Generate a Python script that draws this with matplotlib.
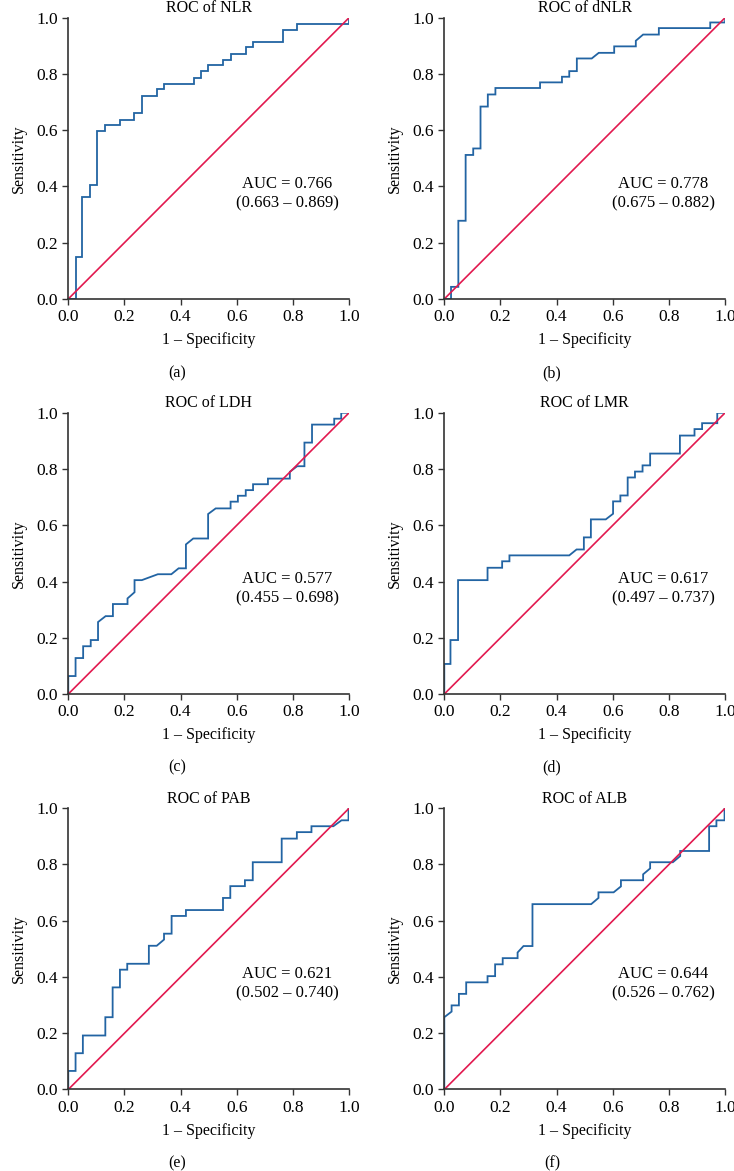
import matplotlib
matplotlib.use("Agg")
import matplotlib.pyplot as plt

plt.rcParams['font.family'] = ['Liberation Serif', 'DejaVu Serif']

# ---------- ROC vertices (1 - specificity, sensitivity) ----------
nlr_fpr = [0, 0.027, 0.027, 0.05, 0.05, 0.077, 0.077, 0.103, 0.103, 0.13, 0.13, 0.184, 0.184,
           0.235, 0.235, 0.261, 0.261, 0.315, 0.315, 0.341, 0.341, 0.447, 0.447, 0.473, 0.473,
           0.499, 0.499, 0.552, 0.552, 0.578, 0.578, 0.632, 0.632, 0.658, 0.658, 0.764, 0.764,
           0.816, 0.816, 1.0, 1.0]
nlr_tpr = [0, 0, 0.149, 0.149, 0.362, 0.362, 0.404, 0.404, 0.596, 0.596, 0.617, 0.617, 0.638,
           0.638, 0.66, 0.66, 0.723, 0.723, 0.745, 0.745, 0.766, 0.766, 0.787, 0.787, 0.809,
           0.809, 0.83, 0.83, 0.851, 0.851, 0.872, 0.872, 0.894, 0.894, 0.915, 0.915, 0.957,
           0.957, 0.979, 0.979, 1.0]

dnlr_fpr = [0, 0.024, 0.024, 0.05, 0.05, 0.076, 0.076, 0.103, 0.103, 0.129, 0.129, 0.155, 0.155,
            0.182, 0.182, 0.341, 0.341, 0.419, 0.419, 0.445, 0.445, 0.472, 0.472, 0.525, 0.55,
            0.605, 0.605, 0.682, 0.682, 0.708, 0.764, 0.764, 0.947, 0.947, 1.0, 1.0]
dnlr_tpr = [0, 0, 0.043, 0.043, 0.278, 0.278, 0.512, 0.512, 0.535, 0.535, 0.684, 0.684, 0.727,
            0.727, 0.75, 0.75, 0.77, 0.77, 0.79, 0.79, 0.81, 0.81, 0.855, 0.855, 0.875,
            0.875, 0.898, 0.898, 0.918, 0.94, 0.94, 0.963, 0.963, 0.983, 0.983, 1.0]

ldh_fpr = [0, 0, 0.026, 0.026, 0.053, 0.053, 0.08, 0.08, 0.106, 0.106, 0.133, 0.159, 0.159,
           0.211, 0.211, 0.236, 0.236, 0.262, 0.319, 0.367, 0.393, 0.419, 0.419, 0.445, 0.498,
           0.498, 0.525, 0.578, 0.578, 0.604, 0.604, 0.632, 0.632, 0.658, 0.658, 0.711, 0.711,
           0.789, 0.789, 0.815, 0.841, 0.841, 0.868, 0.868, 0.947, 0.947, 0.972, 0.972, 1.0]
ldh_tpr = [0, 0.064, 0.064, 0.128, 0.128, 0.17, 0.17, 0.192, 0.192, 0.256, 0.277, 0.277, 0.32,
           0.32, 0.34, 0.362, 0.405, 0.405, 0.426, 0.426, 0.447, 0.447, 0.532, 0.553, 0.553,
           0.64, 0.66, 0.66, 0.684, 0.684, 0.705, 0.705, 0.725, 0.725, 0.746, 0.746, 0.766,
           0.766, 0.79, 0.81, 0.81, 0.894, 0.894, 0.958, 0.958, 0.979, 0.979, 1.0, 1.0]

lmr_fpr = [0, 0, 0.022, 0.022, 0.049, 0.049, 0.154, 0.154, 0.206, 0.206, 0.232, 0.232, 0.445,
           0.471, 0.497, 0.497, 0.522, 0.522, 0.575, 0.601, 0.601, 0.627, 0.627, 0.653, 0.653,
           0.679, 0.679, 0.706, 0.706, 0.733, 0.733, 0.839, 0.839, 0.891, 0.891, 0.918, 0.918,
           0.972, 0.972, 1.0]
lmr_tpr = [0, 0.107, 0.107, 0.192, 0.192, 0.405, 0.405, 0.449, 0.449, 0.472, 0.472, 0.493, 0.493,
           0.514, 0.514, 0.557, 0.557, 0.621, 0.621, 0.641, 0.685, 0.685, 0.706, 0.706, 0.77,
           0.77, 0.791, 0.791, 0.813, 0.813, 0.855, 0.855, 0.919, 0.919, 0.942, 0.942, 0.963,
           0.963, 1.0, 1.0]

pab_fpr = [0, 0, 0.026, 0.026, 0.052, 0.052, 0.132, 0.132, 0.158, 0.158, 0.184, 0.184, 0.21,
           0.21, 0.287, 0.287, 0.315, 0.341, 0.341, 0.368, 0.368, 0.419, 0.419, 0.551, 0.551,
           0.577, 0.577, 0.629, 0.629, 0.657, 0.657, 0.76, 0.76, 0.814, 0.814, 0.866, 0.866,
           0.944, 0.973, 0.998, 0.998]
pab_tpr = [0, 0.066, 0.066, 0.129, 0.129, 0.192, 0.192, 0.257, 0.257, 0.363, 0.363, 0.426, 0.426,
           0.447, 0.447, 0.511, 0.511, 0.533, 0.554, 0.554, 0.617, 0.617, 0.638, 0.638, 0.681,
           0.681, 0.723, 0.723, 0.744, 0.744, 0.808, 0.808, 0.892, 0.892, 0.915, 0.915, 0.936,
           0.936, 0.957, 0.957, 1.0]

alb_fpr = [0, 0, 0.026, 0.026, 0.052, 0.052, 0.078, 0.078, 0.154, 0.154, 0.181, 0.181, 0.208,
           0.208, 0.261, 0.261, 0.282, 0.314, 0.314, 0.523, 0.549, 0.549, 0.603, 0.629, 0.629,
           0.708, 0.708, 0.733, 0.733, 0.814, 0.84, 0.84, 0.943, 0.943, 0.969, 0.969, 0.998, 0.998]
alb_tpr = [0, 0.257, 0.277, 0.299, 0.299, 0.34, 0.34, 0.381, 0.381, 0.403, 0.403, 0.445, 0.445,
           0.467, 0.467, 0.487, 0.51, 0.51, 0.659, 0.659, 0.681, 0.701, 0.701, 0.722, 0.744,
           0.744, 0.765, 0.786, 0.808, 0.808, 0.83, 0.848, 0.848, 0.936, 0.936, 0.957, 0.957, 1.0]

titles = ['ROC of NLR', 'ROC of dNLR', 'ROC of LDH', 'ROC of LMR', 'ROC of PAB', 'ROC of ALB']
auc_text = ['AUC = 0.766\n(0.663 – 0.869)', 'AUC = 0.778\n(0.675 – 0.882)',
            'AUC = 0.577\n(0.455 – 0.698)', 'AUC = 0.617\n(0.497 – 0.737)',
            'AUC = 0.621\n(0.502 – 0.740)', 'AUC = 0.644\n(0.526 – 0.762)']
panel_labels = ['(a)', '(b)', '(c)', '(d)', '(e)', '(f)']
curves = [(nlr_fpr, nlr_tpr), (dnlr_fpr, dnlr_tpr), (ldh_fpr, ldh_tpr),
          (lmr_fpr, lmr_tpr), (pab_fpr, pab_tpr), (alb_fpr, alb_tpr)]

blue = '#2264a3'
red = '#e2194f'
spine = '#333333'

fig = plt.figure(figsize=(7.34, 11.71), dpi=100)
lefts = [0.093, 0.6053]
bottoms = [0.7447, 0.4073, 0.0696]
w, h = 0.3826, 0.2402
label_y = [1 - 373 / 1171, 1 - 767 / 1171, 1 - 1163 / 1171]
label_x = [0.241, 0.752]

for i, (fx, ty) in enumerate(curves):
    r, c = divmod(i, 2)
    ax = fig.add_axes([lefts[c], bottoms[r], w, h])
    ax.plot(fx, ty, color=blue, lw=1.3, solid_joinstyle='miter')
    ax.plot([0, 1], [0, 1], color=red, lw=1.2)
    ax.set_xlim(0, 1)
    ax.set_ylim(0, 1)
    ax.set_xticks([0, 0.2, 0.4, 0.6, 0.8, 1.0])
    ax.set_yticks([0, 0.2, 0.4, 0.6, 0.8, 1.0])
    ax.set_xticklabels(['0.0', '0.2', '0.4', '0.6', '0.8', '1.0'])
    ax.set_yticklabels(['0.0', '0.2', '0.4', '0.6', '0.8', '1.0'])
    for s in ['top', 'right']:
        ax.spines[s].set_visible(False)
    for s in ['left', 'bottom']:
        ax.spines[s].set_color(spine)
        ax.spines[s].set_linewidth(1.2)
    ax.tick_params(direction='out', length=4, width=1, color=spine, labelsize=12.5, pad=3.5)
    ax.set_title(titles[i], fontsize=11.5, pad=4)
    ax.set_xlabel('1 – Specificity', fontsize=11.5, labelpad=5)
    ax.set_ylabel('Sensitivity', fontsize=11.5, labelpad=7)
    ax.text(0.78, 0.375, auc_text[i], ha='center', va='center', fontsize=12,
            linespacing=1.3)
    fig.text(label_x[c], label_y[r], panel_labels[i], ha='center', va='center', fontsize=11.5)

fig.savefig('out.png', dpi=100)
